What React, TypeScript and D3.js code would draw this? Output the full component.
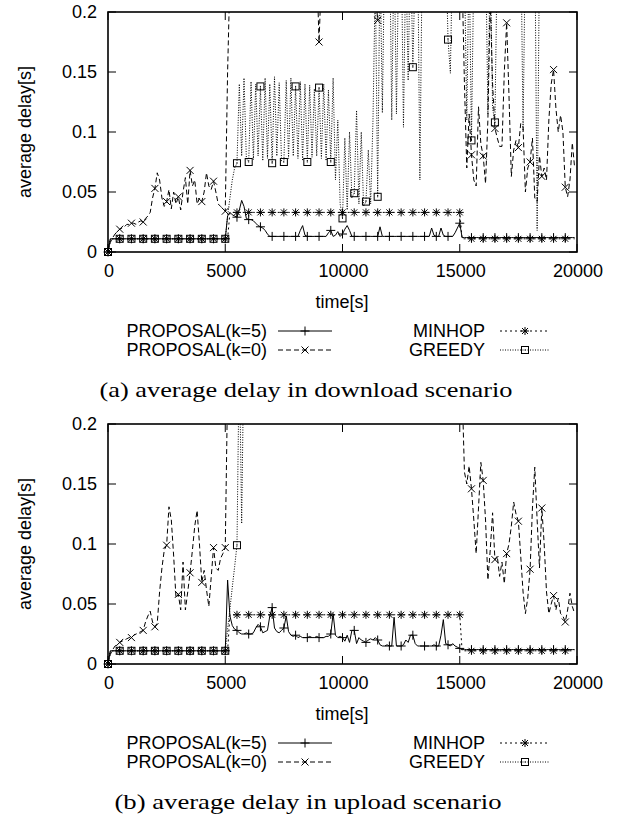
import React, { useEffect, useRef } from "react";
import * as d3 from "d3";

// one sample every STEP seconds, delays in ms
const STEP = 100;
const xTicks = [0, 5000, 10000, 15000, 20000];
const yTicks = [0, 0.05, 0.1, 0.15, 0.2];
const yTickLabels = ["0", "0.05", "0.1", "0.15", "0.2"];
const seriesNames = ["PROPOSAL(k=5)", "PROPOSAL(k=0)", "MINHOP", "GREEDY"];

// (a) download scenario
const dlK5 = [
  0, 11, 11, 11, 11, 11, 11, 11, 11, 11,
  11, 11, 11, 11, 11, 11, 11, 11, 11, 11,
  11, 11, 11, 11, 11, 11, 11, 11, 11, 11,
  11, 11, 11, 11, 11, 11, 11, 11, 11, 11,
  11, 11, 11, 11, 11, 11, 11, 11, 11, 11,
  11, 30, 33, 31, 30, 29, 35, 43, 38, 28,
  27, 27, 26, 24, 22, 21, 20, 18, 15, 13,
  13, 13, 13, 13, 13, 13, 13, 13, 13, 13,
  13, 13, 18, 22, 14, 13, 13, 13, 13, 13,
  13, 13, 13, 13, 16, 18, 13, 14, 17, 13,
  15, 19, 22, 18, 13, 13, 13, 13, 13, 13,
  13, 13, 13, 13, 13, 13, 21, 13, 13, 13,
  13, 13, 13, 13, 13, 13, 13, 13, 13, 13,
  13, 13, 13, 13, 13, 13, 13, 13, 20, 14,
  13, 13, 20, 14, 13, 13, 13, 13, 16, 20,
  24, 12, 12, 12, 12, 12, 12, 12, 12, 12,
  12, 12, 12, 12, 12, 12, 12, 12, 12, 12,
  12, 12, 12, 12, 12, 12, 12, 12, 12, 12,
  12, 12, 12, 12, 12, 12, 12, 12, 12, 12,
  12, 12, 12, 12, 12, 12, 12, 12, 12, 12,
];
const dlK0 = [
  0, 8, 12, 15, 17, 19, 20, 21, 23, 23,
  24, 24, 23, 25, 26, 25, 28, 30, 33, 45,
  53, 66, 60, 45, 38, 42, 52, 36, 50, 40,
  46, 35, 50, 62, 40, 68, 55, 60, 40, 45,
  42, 50, 66, 55, 52, 59, 50, 40, 38, 36,
  34, 150, 230, 260, 250, 270, 260, 250, 280, 260,
  270, 260, 250, 280, 260, 270, 250, 260, 270, 250,
  260, 270, 250, 280, 260, 250, 270, 260, 250, 270,
  260, 250, 270, 260, 250, 280, 260, 270, 250, 240,
  175, 230, 260, 270, 250, 260, 280, 250, 260, 270,
  250, 260, 270, 280, 260, 250, 270, 260, 250, 260,
  270, 250, 260, 240, 220, 193, 230, 260, 270, 250,
  260, 270, 250, 260, 280, 250, 260, 270, 250, 260,
  270, 260, 250, 280, 260, 250, 270, 260, 250, 270,
  260, 250, 270, 260, 250, 270, 260, 250, 280, 260,
  250, 230, 140, 70, 115, 81, 60, 55, 121, 90,
  80, 57, 110, 210, 140, 103, 95, 88, 88, 150,
  191, 130, 63, 85, 93, 87, 107, 104, 50, 70,
  75, 95, 45, 42, 80, 63, 70, 60, 110, 140,
  152, 120, 100, 114, 100, 54, 46, 60, 91, 70,
];
const dlMinhop = [
  0, 11, 11, 11, 11, 11, 11, 11, 11, 11,
  11, 11, 11, 11, 11, 11, 11, 11, 11, 11,
  11, 11, 11, 11, 11, 11, 11, 11, 11, 11,
  11, 11, 11, 11, 11, 11, 11, 11, 11, 11,
  11, 11, 11, 11, 11, 11, 11, 11, 11, 11,
  11, 11, 33, 33, 33, 33, 33, 33, 33, 33,
  33, 33, 33, 33, 33, 33, 33, 33, 33, 33,
  33, 33, 33, 33, 33, 33, 33, 33, 33, 33,
  33, 33, 33, 33, 33, 33, 33, 33, 33, 33,
  33, 33, 33, 33, 33, 33, 33, 33, 33, 33,
  33, 33, 33, 33, 33, 33, 33, 33, 33, 33,
  33, 33, 33, 33, 33, 33, 33, 33, 33, 33,
  33, 33, 33, 33, 33, 33, 33, 33, 33, 33,
  33, 33, 33, 33, 33, 33, 33, 33, 33, 33,
  33, 33, 33, 33, 33, 33, 33, 33, 33, 33,
  33, 11, 11, 11, 11, 11, 11, 11, 11, 11,
  11, 11, 11, 11, 11, 11, 11, 11, 11, 11,
  11, 11, 11, 11, 11, 11, 11, 11, 11, 11,
  11, 11, 11, 11, 11, 11, 11, 11, 11, 11,
  11, 11, 11, 11, 11, 11, 11, 11, 11, 11,
];
const dlGreedy = [
  0, 11, 11, 11, 11, 11, 11, 11, 11, 11,
  11, 11, 11, 11, 11, 11, 11, 11, 11, 11,
  11, 11, 11, 11, 11, 11, 11, 11, 11, 11,
  11, 11, 11, 11, 11, 11, 11, 11, 11, 11,
  11, 11, 11, 11, 11, 11, 11, 11, 11, 11,
  11, 30, 45, 60, 70, 74, 140, 80, 145, 78,
  75, 142, 77, 140, 80, 138, 76, 145, 78, 140,
  74, 146, 80, 141, 76, 75, 143, 78, 145, 80,
  138, 78, 142, 76, 140, 75, 139, 79, 136, 80,
  137, 78, 140, 76, 135, 75, 145, 60, 110, 40,
  28, 95, 35, 100, 45, 49, 118, 40, 100, 38,
  42, 85, 40, 110, 230, 46, 250, 116, 260, 240,
  280, 110, 260, 115, 250, 270, 104, 250, 143, 260,
  154, 240, 270, 60, 250, 260, 280, 250, 270, 240,
  260, 250, 270, 240, 260, 177, 149, 260, 250, 270,
  260, 250, 240, 110, 250, 93, 240, 260, 250, 270,
  240, 260, 115, 250, 120, 108, 250, 260, 270, 250,
  260, 250, 270, 240, 260, 250, 270, 100, 260, 250,
  250, 240, 270, 18, 250, 260, 240, 270, 250, 260,
  270, 250, 260, 240, 250, 260, 270, 250, 260, 250,
];

// (b) upload scenario
const ulK5 = [
  0, 11, 11, 11, 11, 11, 11, 11, 11, 11,
  11, 11, 11, 11, 11, 11, 11, 11, 11, 11,
  11, 11, 11, 11, 11, 11, 11, 11, 11, 11,
  11, 11, 11, 11, 11, 11, 11, 11, 11, 11,
  11, 11, 11, 11, 11, 11, 11, 11, 11, 11,
  11, 70, 40, 32, 29, 28, 26, 25, 25, 26,
  25, 25, 26, 30, 33, 31, 26, 27, 28, 40,
  47, 30, 27, 26, 28, 30, 40, 27, 24, 23,
  24, 22, 23, 22, 22, 22, 23, 22, 22, 23,
  22, 22, 22, 23, 23, 25, 42, 24, 22, 23,
  22, 19, 24, 18, 28, 28, 17, 22, 20, 19,
  18, 20, 21, 20, 22, 20, 16, 15, 15, 16,
  15, 15, 39, 15, 15, 15, 16, 20, 18, 24,
  24, 17, 15, 15, 15, 15, 15, 15, 15, 16,
  15, 15, 24, 37, 17, 16, 15, 17, 15, 14,
  13, 12, 12, 12, 12, 12, 12, 12, 12, 12,
  12, 12, 12, 12, 12, 12, 12, 12, 12, 12,
  12, 12, 12, 12, 12, 12, 12, 12, 12, 12,
  12, 12, 12, 12, 12, 12, 12, 12, 12, 12,
  12, 12, 12, 12, 12, 12, 12, 12, 12, 12,
];
const ulK0 = [
  0, 8, 12, 15, 16, 18, 19, 20, 21, 22,
  22, 24, 25, 26, 27, 28, 35, 40, 44, 35,
  31, 34, 60, 80, 95, 99, 131, 120, 90, 55,
  58, 45, 85, 45, 60, 76, 95, 115, 128, 100,
  68, 78, 62, 48, 72, 97, 80, 78, 88, 92,
  97, 230, 260, 270, 250, 260, 280, 250, 270, 260,
  250, 270, 260, 280, 250, 260, 270, 250, 260, 280,
  260, 250, 270, 260, 280, 250, 260, 270, 250, 260,
  270, 260, 250, 280, 260, 270, 250, 260, 270, 250,
  260, 270, 250, 260, 280, 250, 270, 260, 250, 270,
  250, 260, 270, 250, 260, 280, 250, 260, 270, 260,
  270, 250, 260, 270, 250, 260, 280, 250, 260, 270,
  260, 270, 250, 260, 270, 250, 260, 280, 250, 260,
  250, 260, 270, 280, 260, 250, 270, 260, 250, 270,
  260, 250, 270, 260, 250, 270, 260, 250, 280, 260,
  250, 230, 160, 150, 165, 146, 120, 92, 130, 168,
  153, 120, 70, 95, 126, 87, 90, 73, 85, 67,
  92, 100, 115, 135, 125, 119, 90, 60, 42, 55,
  79, 130, 164, 120, 80, 130, 100, 60, 42, 50,
  57, 45, 55, 42, 40, 35, 45, 59, 48, 42,
];
const ulMinhop = [
  0, 11, 11, 11, 11, 11, 11, 11, 11, 11,
  11, 11, 11, 11, 11, 11, 11, 11, 11, 11,
  11, 11, 11, 11, 11, 11, 11, 11, 11, 11,
  11, 11, 11, 11, 11, 11, 11, 11, 11, 11,
  11, 11, 11, 11, 11, 11, 11, 11, 11, 11,
  11, 11, 41, 41, 41, 41, 41, 41, 41, 41,
  41, 41, 41, 41, 41, 41, 41, 41, 41, 41,
  41, 41, 41, 41, 41, 41, 41, 41, 41, 41,
  41, 41, 41, 41, 41, 41, 41, 41, 41, 41,
  41, 41, 41, 41, 41, 41, 41, 41, 41, 41,
  41, 41, 41, 41, 41, 41, 41, 41, 41, 41,
  41, 41, 41, 41, 41, 41, 41, 41, 41, 41,
  41, 41, 41, 41, 41, 41, 41, 41, 41, 41,
  41, 41, 41, 41, 41, 41, 41, 41, 41, 41,
  41, 41, 41, 41, 41, 41, 41, 41, 41, 41,
  41, 11, 11, 11, 11, 11, 11, 11, 11, 11,
  11, 11, 11, 11, 11, 11, 11, 11, 11, 11,
  11, 11, 11, 11, 11, 11, 11, 11, 11, 11,
  11, 11, 11, 11, 11, 11, 11, 11, 11, 11,
  11, 11, 11, 11, 11, 11, 11, 11, 11, 11,
];
const ulGreedy = [
  0, 11, 11, 11, 11, 11, 11, 11, 11, 11,
  11, 11, 11, 11, 11, 11, 11, 11, 11, 11,
  11, 11, 11, 11, 11, 11, 11, 11, 11, 11,
  11, 11, 11, 11, 11, 11, 11, 11, 11, 11,
  11, 11, 11, 11, 11, 11, 11, 11, 11, 11,
  11, 29, 46, 64, 81, 99, 260, 117, 270, 260,
  280, 270, 260, 290, 270, 280, 260, 270, 290, 280,
  270, 260, 280, 270, 290, 260, 280, 270, 260, 280,
  290, 270, 260, 280, 270, 260, 290, 280, 270, 260,
  280, 270, 290, 260, 280, 270, 260, 280, 290, 270,
  260, 280, 270, 290, 260, 280, 270, 260, 280, 270,
  290, 260, 280, 270, 260, 290, 280, 270, 260, 280,
  270, 290, 260, 280, 270, 260, 280, 290, 270, 260,
  280, 270, 260, 290, 280, 270, 260, 280, 270, 290,
  260, 280, 270, 260, 290, 280, 270, 260, 280, 270,
  290, 260, 280, 270, 260, 280, 290, 270, 260, 280,
  270, 260, 290, 280, 270, 260, 280, 270, 290, 260,
  280, 270, 260, 280, 290, 270, 260, 280, 270, 260,
  290, 280, 270, 260, 280, 270, 290, 260, 280, 270,
  260, 280, 270, 290, 260, 280, 270, 260, 280, 270,
];

const panels = [
  { top: 12, caption: "(a) average delay in download scenario", capX: 306, capW: 413, series: [dlK5, dlK0, dlMinhop, dlGreedy] },
  { top: 424, caption: "(b) average delay in upload scenario", capX: 308, capW: 387, series: [ulK5, ulK0, ulMinhop, ulGreedy] },
];

const styles = [
  { dash: null, marker: "plus" },
  { dash: "5,3", marker: "cross" },
  { dash: "2,3", marker: "star" },
  { dash: "1,1.5", marker: "square" },
];

const SANS = "'Liberation Sans', Arial, Helvetica, sans-serif";
const SERIF = "'Liberation Serif', 'DejaVu Serif', serif";

const drawMarker = (g, kind, cx, cy) => {
  let d = "";
  if (kind === "plus") d = `M${cx - 4.5},${cy}h9M${cx},${cy - 4.5}v9`;
  if (kind === "cross") d = `M${cx - 3.5},${cy - 3.5}l7,7M${cx - 3.5},${cy + 3.5}l7,-7`;
  if (kind === "star") d = `M${cx - 4},${cy}h8M${cx},${cy - 4}v8M${cx - 3},${cy - 3}l6,6M${cx - 3},${cy + 3}l6,-6`;
  if (kind === "square") {
    g.append("rect").attr("x", cx - 3.5).attr("y", cy - 3.5).attr("width", 7).attr("height", 7)
      .attr("fill", "none").attr("stroke", "#000").attr("stroke-width", 1);
    g.append("rect").attr("x", cx - 0.5).attr("y", cy - 0.5).attr("width", 1).attr("height", 1).attr("fill", "#000");
    return;
  }
  g.append("path").attr("d", d).attr("stroke", "#000").attr("stroke-width", 1).attr("fill", "none");
};

const App = () => {
  const svgRef = useRef(null);

  useEffect(() => {
    const svg = d3.select(svgRef.current);
    svg.selectAll("*").remove();

    panels.forEach((p, pi) => {
      const top = p.top;
      const bottom = top + 240;
      const x = d3.scaleLinear().domain([0, 20000]).range([108, 577]);
      const y = d3.scaleLinear().domain([0, 0.2]).range([bottom, top]);
      const g = svg.append("g");
      const clipId = `clip${pi}`;
      g.append("clipPath").attr("id", clipId).append("rect")
        .attr("x", 108).attr("y", top).attr("width", 469).attr("height", 240);

      // ticks, inward and mirrored
      xTicks.forEach((t) => {
        g.append("line").attr("x1", x(t)).attr("x2", x(t)).attr("y1", bottom).attr("y2", bottom - 8).attr("stroke", "#000");
        g.append("line").attr("x1", x(t)).attr("x2", x(t)).attr("y1", top).attr("y2", top + 8).attr("stroke", "#000");
        g.append("text").attr("x", x(t) + 1).attr("y", bottom + 19).attr("dy", "0.35em")
          .attr("text-anchor", "middle").attr("font-family", SANS).attr("font-size", 18).text(String(t));
      });
      yTicks.forEach((t, i) => {
        g.append("line").attr("x1", 108).attr("x2", 116).attr("y1", y(t)).attr("y2", y(t)).attr("stroke", "#000");
        g.append("line").attr("x1", 577).attr("x2", 569).attr("y1", y(t)).attr("y2", y(t)).attr("stroke", "#000");
        g.append("text").attr("x", 97).attr("y", y(t)).attr("dy", "0.35em")
          .attr("text-anchor", "end").attr("font-family", SANS).attr("font-size", 18).text(yTickLabels[i]);
      });

      // series
      p.series.forEach((vals, si) => {
        const pts = vals.map((v, i) => [i * STEP, v / 1000]);
        const line = d3.line().x((d) => x(d[0])).y((d) => y(d[1]));
        const path = g.append("path").attr("d", line(pts)).attr("clip-path", `url(#${clipId})`)
          .attr("fill", "none").attr("stroke", "#000").attr("stroke-width", 1);
        if (styles[si].dash) path.attr("stroke-dasharray", styles[si].dash);
        pts.forEach((d, i) => {
          if (i % 5 === 0 && d[1] <= 0.2) drawMarker(g, styles[si].marker, x(d[0]), y(d[1]));
        });
      });

      // frame
      g.append("rect").attr("x", 108).attr("y", top).attr("width", 469).attr("height", 240)
        .attr("fill", "none").attr("stroke", "#000").attr("stroke-width", 1.6);

      // axis titles
      g.append("text").attr("x", 342).attr("y", bottom + 50).attr("dy", "0.35em")
        .attr("text-anchor", "middle").attr("font-family", SANS).attr("font-size", 18).text("time[s]");
      g.append("text").attr("transform", `translate(25,${(top + bottom) / 2}) rotate(-90)`).attr("dy", "0.35em")
        .attr("text-anchor", "middle").attr("font-family", SANS).attr("font-size", 18).text("average delay[s]");

      // legend, two columns
      seriesNames.forEach((name, si) => {
        const col = si < 2 ? 0 : 1;
        const row = si % 2;
        const textX = col === 0 ? 267 : 485;
        const x0 = col === 0 ? 278 : 500;
        const x1 = col === 0 ? 332 : 550;
        const ly = bottom + 79 + row * 19;
        g.append("text").attr("x", textX).attr("y", ly).attr("dy", "0.35em")
          .attr("text-anchor", "end").attr("font-family", SANS).attr("font-size", 18).text(name);
        const s = g.append("line").attr("x1", x0).attr("x2", x1).attr("y1", ly).attr("y2", ly)
          .attr("stroke", "#000").attr("stroke-width", 1);
        if (styles[si].dash) s.attr("stroke-dasharray", styles[si].dash);
        drawMarker(g, styles[si].marker, (x0 + x1) / 2, ly);
      });

      // caption
      g.append("text").attr("x", p.capX).attr("y", bottom + 138).attr("dy", "0.35em")
        .attr("text-anchor", "middle").attr("font-family", SERIF).attr("font-size", 21)
        .attr("textLength", p.capW).attr("lengthAdjust", "spacingAndGlyphs").text(p.caption);
    });
  }, []);

  return (
    <svg ref={svgRef} width={623} height={818}
      style={{ position: "absolute", left: 0, top: 0, background: "#fff" }} />
  );
};

export default App;
